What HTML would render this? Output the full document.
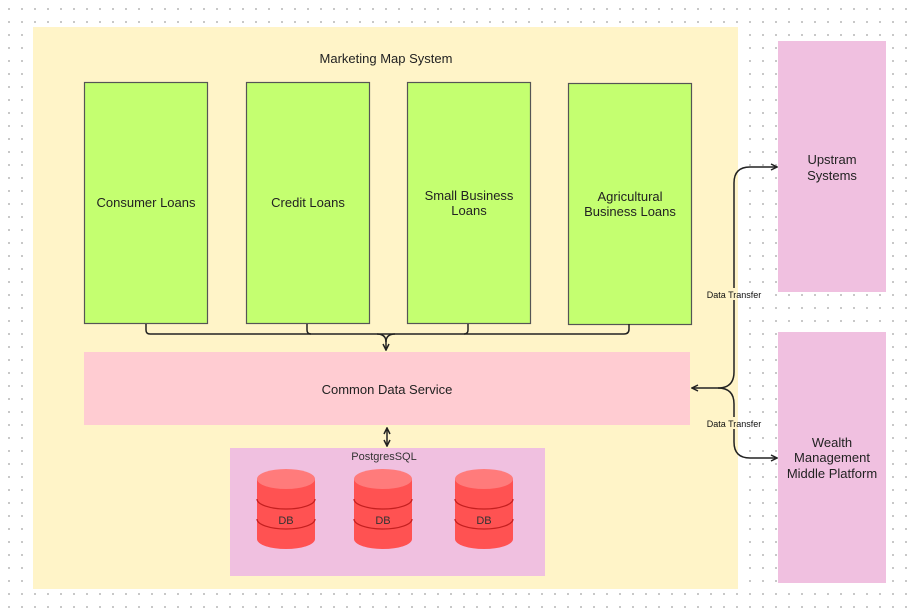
<!DOCTYPE html>
<html><head><meta charset="utf-8"><style>
html,body{margin:0;padding:0;background:#fff;}
svg{display:block;font-family:"Liberation Sans",sans-serif;}
</style></head><body>
<svg width="918" height="613" viewBox="0 0 918 613" xmlns="http://www.w3.org/2000/svg">
<defs>
<pattern id="dots" x="0" y="0" width="13" height="13" patternUnits="userSpaceOnUse">
<rect x="8" y="8" width="2" height="2" fill="#c8c8c8"/>
</pattern>
<marker id="ah" markerWidth="8" markerHeight="8" refX="7" refY="4" orient="auto" markerUnits="userSpaceOnUse">
<path d="M1,1 L7,4 L1,7" fill="none" stroke="#222" stroke-width="1.5"/>
</marker>
</defs>
<rect width="918" height="613" fill="url(#dots)"/>
<rect x="33" y="27" width="705" height="562" fill="#fff4c8"/>
<text x="386" y="63" font-size="13" text-anchor="middle" fill="#222">Marketing Map System</text>

<g fill="#c4ff70" stroke="#555" stroke-width="1.2">
<rect x="84.5" y="82.5" width="123" height="241"/>
<rect x="246.5" y="82.5" width="123" height="241"/>
<rect x="407.5" y="82.5" width="123" height="241"/>
<rect x="568.5" y="83.5" width="123" height="241"/>
</g>
<g font-size="13" text-anchor="middle" fill="#222">
<text x="146" y="207">Consumer Loans</text>
<text x="308" y="207">Credit Loans</text>
<text x="469" y="200">Small Business</text>
<text x="469" y="215">Loans</text>
<text x="630" y="201">Agricultural</text>
<text x="630" y="216">Business Loans</text>
</g>

<g fill="none" stroke="#222" stroke-width="1.5">
<path d="M146,324 V330 Q146,334 150,334 H624 Q629,334 629,329 V324"/>
<path d="M307,324 V330 Q307,334 311,334"/>
<path d="M468,324 V330 Q468,334 464,334"/>
<path d="M377,334 Q386,334 386,342 V350" marker-end="url(#ah)"/>
<path d="M395,334 Q386,334 386,342"/>
<path d="M387,437 V428" marker-end="url(#ah)"/>
<path d="M387,437 V446" marker-end="url(#ah)"/>
<path d="M718,388 H692" marker-end="url(#ah)"/>
<path d="M718,388 Q734,388 734,372 V183 Q734,167 750,167 H777" marker-end="url(#ah)"/>
<path d="M718,388 Q734,388 734,404 V442 Q734,458 750,458 H777" marker-end="url(#ah)"/>
</g>

<rect x="84" y="352" width="606" height="73" fill="#ffccd2"/>
<text x="387" y="394" font-size="13" text-anchor="middle" fill="#222">Common Data Service</text>

<g font-size="9" text-anchor="middle" fill="#111">
<rect x="703" y="288" width="35" height="12" fill="#fff4c8"/>
<rect x="738" y="288" width="28" height="12" fill="#fff"/>
<text x="734" y="298">Data Transfer</text>
<rect x="703" y="417" width="35" height="12" fill="#fff4c8"/>
<rect x="738" y="417" width="28" height="12" fill="#fff"/>
<text x="734" y="427">Data Transfer</text>
</g>

<rect x="230" y="448" width="315" height="128" fill="#f0c0e0"/>
<text x="384" y="460" font-size="11" text-anchor="middle" fill="#333">PostgresSQL</text>

<g id="cyl">
<path d="M257,479 V539 A29,10 0 0 0 315,539 V479 Z" fill="#ff5252"/>
<ellipse cx="286" cy="479" rx="29" ry="10" fill="#ff7b7b"/>
<path d="M257,499 A29,10 0 0 0 315,499 M257,519 A29,10 0 0 0 315,519" fill="none" stroke="#c42020" stroke-width="1.3"/>
<text x="286" y="524" font-size="11" text-anchor="middle" fill="#333">DB</text>
</g>
<use href="#cyl" transform="translate(97,0)"/>
<use href="#cyl" transform="translate(198,0)"/>

<rect x="778" y="41" width="108" height="251" fill="#f0c0e0"/>
<rect x="778" y="332" width="108" height="251" fill="#f0c0e0"/>
<g font-size="13" text-anchor="middle" fill="#222">
<text x="832" y="164">Upstram</text>
<text x="832" y="180">Systems</text>
<text x="832" y="447">Wealth</text>
<text x="832" y="462">Management</text>
<text x="832" y="478">Middle Platform</text>
</g>
</svg>
</body></html>
